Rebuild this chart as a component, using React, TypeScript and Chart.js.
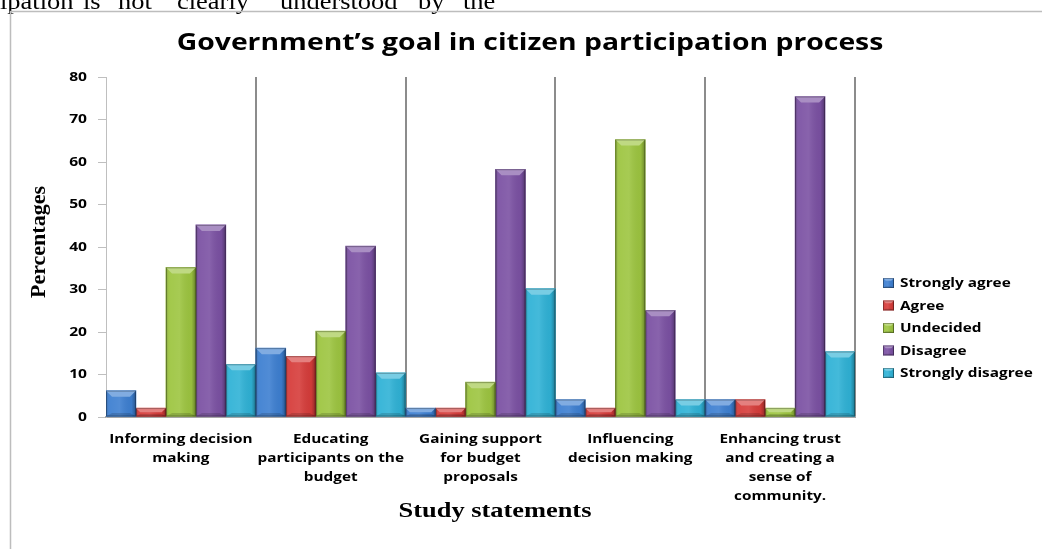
import React, { useEffect, useRef } from "react";
import { Chart, registerables } from "chart.js";

Chart.register(...registerables);

const categories: string[][] = [
  ["Informing decision", "making"],
  ["Educating", "participants on the", "budget"],
  ["Gaining support", "for budget", "proposals"],
  ["Influencing", "decision making"],
  ["Enhancing trust", "and creating a", "sense of", "community."],
];

const seriesNames = ["Strongly agree", "Agree", "Undecided", "Disagree", "Strongly disagree"];

const stronglyAgree = [6.2, 16.2, 2.1, 4.1, 4.1];
const agree = [2.1, 14.3, 2.1, 2.1, 4.1];
const undecided = [35.2, 20.2, 8.2, 65.3, 2.1];
const disagree = [45.2, 40.2, 58.3, 25.1, 75.4];
const stronglyDisagree = [12.4, 10.4, 30.2, 4.1, 15.4];

const yTicks = [0, 10, 20, 30, 40, 50, 60, 70, 80];
const yTickLabels = ["0", "10", "20", "30", "40", "50", "60", "70", "80"];

const chartTitle = "Government\u2019s goal in citizen participation process";
const yTitle = "Percentages";
const xTitle = "Study statements";
const pageWords = ["ipation", "is", "not", "clearly", "understood", "by", "the"];
const pageWordX = [0, 83, 118, 177, 280, 418, 463];

const colors = ["#3d7fd1", "#d63c3a", "#9dc540", "#7b51a3", "#2fb2d6"];

const STRETCH = 1.18;

function shade(hex: string, amt: number): string {
  const n = parseInt(hex.slice(1), 16);
  let r = (n >> 16) & 255;
  let g = (n >> 8) & 255;
  let b = n & 255;
  if (amt >= 0) {
    r = Math.round(r + (255 - r) * amt);
    g = Math.round(g + (255 - g) * amt);
    b = Math.round(b + (255 - b) * amt);
  } else {
    r = Math.round(r * (1 + amt));
    g = Math.round(g * (1 + amt));
    b = Math.round(b * (1 + amt));
  }
  return `rgb(${r},${g},${b})`;
}

function stretchText(ctx: CanvasRenderingContext2D, text: string, x: number, y: number, align: CanvasTextAlign, sx: number) {
  ctx.save();
  ctx.translate(x, y);
  ctx.scale(sx, 1);
  ctx.textAlign = align;
  ctx.fillText(text, 0, 0);
  ctx.restore();
}

function drawBevelBox(ctx: CanvasRenderingContext2D, left: number, top: number, w: number, h: number, color: string, bevel: number) {
  const right = left + w;
  const bottom = top + h;
  const g = ctx.createLinearGradient(left, 0, right, 0);
  g.addColorStop(0, "rgba(0,0,0,0.22)");
  g.addColorStop(0.12, "rgba(255,255,255,0.06)");
  g.addColorStop(0.45, "rgba(255,255,255,0.10)");
  g.addColorStop(0.85, "rgba(0,0,0,0.04)");
  g.addColorStop(1, "rgba(0,0,0,0.32)");
  ctx.fillStyle = g;
  ctx.fillRect(left, top, w, h);
  const b = Math.min(bevel, h / 2, w / 4);
  ctx.beginPath();
  ctx.moveTo(left, top);
  ctx.lineTo(right, top);
  ctx.lineTo(right - b, top + b);
  ctx.lineTo(left + b, top + b);
  ctx.closePath();
  ctx.fillStyle = shade(color, 0.35);
  ctx.fill();
  ctx.beginPath();
  ctx.moveTo(left, bottom);
  ctx.lineTo(right, bottom);
  ctx.lineTo(right - b, bottom - b * 0.6);
  ctx.lineTo(left + b, bottom - b * 0.6);
  ctx.closePath();
  ctx.fillStyle = "rgba(0,0,0,0.15)";
  ctx.fill();
  ctx.strokeStyle = "rgba(0,0,0,0.28)";
  ctx.lineWidth = 1;
  ctx.strokeRect(left + 0.5, top + 0.5, w - 1, h - 1);
}

const decorPlugin = {
  id: "decor",
  afterDatasetsDraw(chart: any) {
    const ctx: CanvasRenderingContext2D = chart.ctx;
    ctx.save();
    chart.data.datasets.forEach((ds: any, i: number) => {
      const meta = chart.getDatasetMeta(i);
      meta.data.forEach((el: any) => {
        const p = el.getProps(["x", "y", "base", "width"], true);
        const left = p.x - p.width / 2;
        const top = Math.min(p.y, p.base);
        const h = Math.abs(p.base - p.y);
        drawBevelBox(ctx, left, top, p.width, h, ds.backgroundColor, 6);
      });
    });
    ctx.restore();
  },
  afterDraw(chart: any) {
    const ctx: CanvasRenderingContext2D = chart.ctx;
    const area = chart.chartArea;
    const xs = chart.scales.x;
    const ys = chart.scales.y;
    ctx.save();
    ctx.fillStyle = "#000";

    // page text fragment above the figure
    ctx.font = '23px "Liberation Serif"';
    ctx.textBaseline = "alphabetic";
    pageWords.forEach((w, i) => {
      stretchText(ctx, w, pageWordX[i], 9, "left", 1.15);
    });

    // figure frame
    ctx.strokeStyle = "#bdbdbd";
    ctx.lineWidth = 1.5;
    ctx.beginPath();
    ctx.moveTo(10.5, chart.height);
    ctx.lineTo(10.5, 11.5);
    ctx.lineTo(chart.width, 11.5);
    ctx.stroke();

    // title
    ctx.font = 'bold 24px "Open Sans"';
    stretchText(ctx, chartTitle, 530, 50, "center", STRETCH);

    // y title
    ctx.save();
    ctx.translate(45, (area.top + area.bottom) / 2 - 5);
    ctx.rotate(-Math.PI / 2);
    ctx.font = 'bold 22px "Liberation Serif"';
    ctx.textAlign = "center";
    ctx.fillText(yTitle, 0, 0);
    ctx.restore();

    // x title
    ctx.font = 'bold 22px "Liberation Serif"';
    stretchText(ctx, xTitle, 495, 517, "center", 1.2);

    // y tick labels
    ctx.font = 'bold 13px "Open Sans"';
    ctx.textBaseline = "middle";
    yTicks.forEach((v, i) => {
      stretchText(ctx, yTickLabels[i], area.left - 19, ys.getPixelForValue(v), "right", 1.2);
    });

    // x tick labels
    ctx.textBaseline = "alphabetic";
    chart.data.labels.forEach((lines: string[], i: number) => {
      const x = xs.getPixelForTick(i);
      lines.forEach((ln, k) => {
        stretchText(ctx, ln, x, area.bottom + 26 + k * 19, "center", STRETCH);
      });
    });

    // legend
    ctx.textBaseline = "middle";
    chart.data.datasets.forEach((ds: any, i: number) => {
      const cy = 283 + i * 22.5;
      ctx.fillStyle = ds.backgroundColor;
      ctx.fillRect(883, cy - 5, 11, 10);
      drawBevelBox(ctx, 883, cy - 5, 11, 10, ds.backgroundColor, 3);
      ctx.fillStyle = "#000";
      stretchText(ctx, ds.label, 900, cy + 0.5, "left", STRETCH);
    });
    ctx.restore();
  },
};

export default function App() {
  const ref = useRef<HTMLCanvasElement | null>(null);

  useEffect(() => {
    if (!ref.current) return;
    const series = [stronglyAgree, agree, undecided, disagree, stronglyDisagree];
    const chart = new Chart(ref.current, {
      type: "bar",
      data: {
        labels: categories,
        datasets: series.map((d, i) => ({
          label: seriesNames[i],
          data: d,
          backgroundColor: colors[i],
          borderWidth: 0,
          categoryPercentage: 1,
          barPercentage: 1,
        })),
      },
      options: {
        animation: false,
        responsive: false,
        maintainAspectRatio: false,
        layout: { padding: { left: 10, right: 187, top: 77, bottom: 12 } },
        plugins: {
          legend: { display: false },
          title: { display: false },
          tooltip: { enabled: false },
        },
        scales: {
          x: {
            grid: {
              offset: true,
              color: (c: any) => (c.index === 0 ? "rgba(0,0,0,0)" : "#8c8c8c"),
              lineWidth: 2,
              drawTicks: false,
              tickLength: 0,
            },
            border: { color: "#a6a6a6", width: 2 },
            ticks: { display: false, autoSkip: false, maxRotation: 0 },
            afterFit: (s: any) => {
              s.height = 120;
            },
          },
          y: {
            min: 0,
            max: 80,
            afterBuildTicks: (s: any) => {
              s.ticks = yTicks.map((v) => ({ value: v }));
            },
            grid: {
              drawOnChartArea: false,
              drawTicks: true,
              tickLength: 8,
              color: "#bfbfbf",
              tickColor: "#bfbfbf",
            },
            border: { color: "#bfbfbf", width: 1 },
            ticks: { display: false },
            afterFit: (s: any) => {
              s.width = 96;
            },
          },
        },
      },
      plugins: [decorPlugin],
    } as any);
    return () => chart.destroy();
  }, []);

  return (
    <div style={{ position: "absolute", left: 0, top: 0, width: 1042, height: 549, background: "#fff", overflow: "hidden" }}>
      <canvas ref={ref} width={1042} height={549} style={{ display: "block", width: 1042, height: 549 }} />
    </div>
  );
}
